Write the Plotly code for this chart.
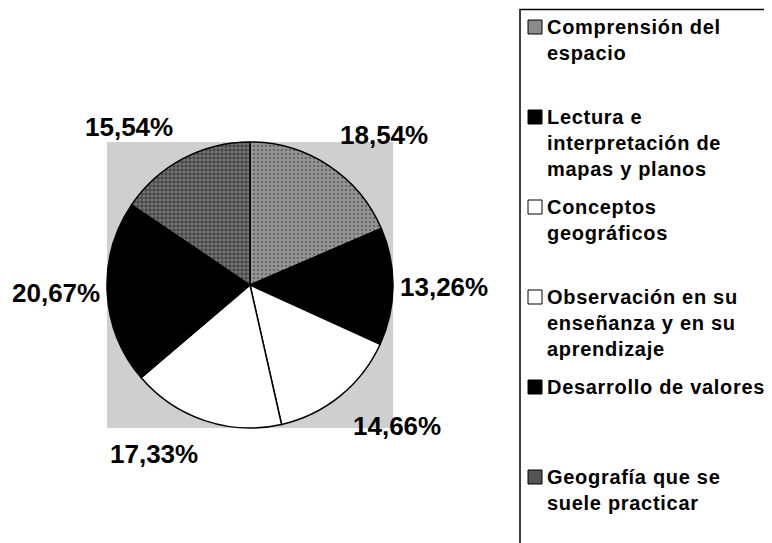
import math
import plotly.graph_objects as go

# page body has an 8px margin, so the figure is drawn 8px smaller and
# every pixel position below is expressed in page coordinates minus OFF
PAGE_W, PAGE_H = 772, 543
OFF = 8
W, H = PAGE_W - OFF, PAGE_H - OFF

# ---- data ----
categories = [
    "Comprensión del espacio",
    "Lectura e interpretación de mapas y planos",
    "Conceptos geográficos",
    "Observación en su enseñanza y en su aprendizaje",
    "Desarrollo de valores",
    "Geografía que se suele practicar",
]
legend_lines = [
    ["Comprensión del", "espacio"],
    ["Lectura e", "interpretación de", "mapas y planos"],
    ["Conceptos", "geográficos"],
    ["Observación en su", "enseñanza y en su", "aprendizaje"],
    ["Desarrollo de valores"],
    ["Geografía que se", "suele practicar"],
]
values = [18.54, 13.26, 14.66, 17.33, 20.67, 15.54]
value_labels = ["18,54%", "13,26%", "14,66%", "17,33%", "20,67%", "15,54%"]

# ---- styles ----
slice_bg = ["#979797", "#000000", "#ffffff", "#ffffff", "#000000", "#767676"]
slice_fg = ["#6a6a6a", "#000000", "#ffffff", "#ffffff", "#000000", "#2e2e2e"]
slice_shape = [".", "", "", "", "", "+"]
legend_sym = ["#8a8a8a", "#000000", "#ffffff", "#ffffff", "#000000", "#555555"]
FONT = "Liberation Sans, Arial, sans-serif"


def px(x):
    return (x - OFF) / W


def py(y):
    return 1 - (y - OFF) / H


# pie geometry (page pixels)
cx, cy, R = 250, 285, 143
box = (107, 142, 393, 428)

fig = go.Figure()
fig.add_trace(go.Pie(
    labels=categories,
    values=values,
    sort=False,
    direction="clockwise",
    rotation=0,
    textinfo="none",
    hoverinfo="label+percent",
    showlegend=False,
    domain=dict(x=[px(box[0]), px(box[2])], y=[py(box[3]), py(box[1])]),
    marker=dict(
        colors=slice_bg,
        line=dict(color="#000000", width=1.5),
        pattern=dict(shape=slice_shape, fgcolor=slice_fg, bgcolor=slice_bg,
                     size=4, solidity=0.35),
    ),
))

shapes = [
    dict(type="rect", xref="paper", yref="paper",
         x0=px(box[0]), x1=px(box[2]), y0=py(box[3]), y1=py(box[1]),
         fillcolor="#cfcfcf", line=dict(width=0), layer="below"),
    # legend frame (runs off the page, as in the original)
    dict(type="rect", xref="paper", yref="paper",
         x0=px(520), x1=px(800), y0=py(570), y1=py(9.5),
         fillcolor="rgba(0,0,0,0)", line=dict(color="#000000", width=1.5)),
]
annotations = []

# percentage labels placed outside each slice
total = sum(values)
cum = 0.0
for v, lab in zip(values, value_labels):
    mid = (cum + v / 2) / total * 2 * math.pi
    cum += v
    s, c = math.sin(mid), math.cos(mid)
    xa = "left" if s > 0.1 else ("right" if s < -0.1 else "center")
    ya = "bottom" if c > 0.3 else ("top" if c < -0.3 else "middle")
    gap = 6 if ya == "middle" else 18
    lx = cx + (R + gap) * s
    ly = cy - (R + gap) * c
    annotations.append(dict(
        x=px(lx), y=py(ly), xref="paper", yref="paper", text=lab,
        showarrow=False, xanchor=xa, yanchor=ya, borderpad=0,
        font=dict(family=FONT, size=26, color="#000000", weight="bold"),
    ))

# legend (manual, to keep the original spacing)
for i, lines in enumerate(legend_lines):
    ey = 27 + 90 * i
    shapes.append(dict(type="rect", xref="paper", yref="paper",
                       x0=px(528), x1=px(542), y0=py(ey + 7), y1=py(ey - 7),
                       fillcolor=legend_sym[i],
                       line=dict(color="#000000", width=1)))
    for k, t in enumerate(lines):
        annotations.append(dict(
            x=px(546), y=py(ey + 26 * k), xref="paper", yref="paper",
            text='<span style="letter-spacing:0.7px">' + t + "</span>",
            showarrow=False, xanchor="left", yanchor="middle",
            borderpad=0,
            font=dict(family=FONT, size=20, color="#000000", weight="bold"),
        ))

fig.update_layout(
    width=W, height=H, autosize=False,
    margin=dict(l=0, r=0, t=0, b=0),
    paper_bgcolor="#ffffff", plot_bgcolor="#ffffff",
    shapes=shapes, annotations=annotations,
    showlegend=False,
)

fig.write_html("out.html")
